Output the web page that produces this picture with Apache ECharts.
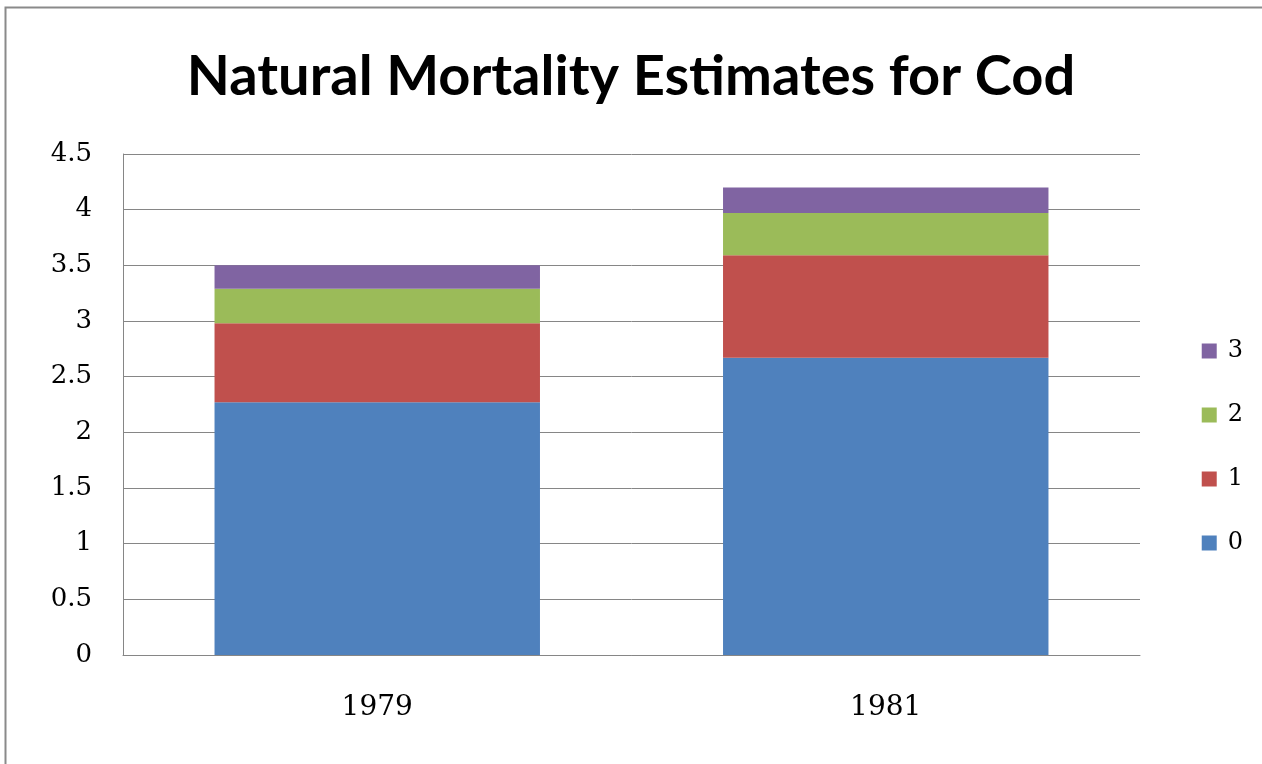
<!DOCTYPE html>
<html>
<head>
<meta charset="utf-8">
<title>Natural Mortality Estimates for Cod</title>
<script src="https://cdn.jsdelivr.net/npm/echarts@6/dist/echarts.min.js"></script>
<style>
  html, body { margin: 0; padding: 0; background: #ffffff; }
  #chart { width: 1262px; height: 764px; }
</style>
</head>
<body>
<div id="chart"></div>
<script>
// Survey years on the category axis
const years = ['1979', '1981'];

// Natural mortality by age class, stacked per year
const age0 = [2.27, 2.67];
const age1 = [0.71, 0.92];
const age2 = [0.31, 0.38];
const age3 = [0.21, 0.23];

// Value axis range
const yMin = 0;
const yMax = 4.5;
const yStep = 0.5;

const ageNames = ['0', '1', '2', '3'];
const ageValues = [age0, age1, age2, age3];
const ageColors = ['#4F81BD', '#C0504D', '#9BBB59', '#8064A2'];

const labelFont = 'DejaVu Serif';

const chart = echarts.init(document.getElementById('chart'), null, { renderer: 'canvas' });

chart.setOption({
  backgroundColor: '#ffffff',
  animation: false,
  title: {
    text: 'Natural Mortality Estimates for Cod',
    left: 'center',
    top: 44,
    textStyle: {
      fontFamily: 'Lato',
      fontWeight: 'bold',
      fontSize: 56,
      color: '#000000'
    }
  },
  graphic: [{
    type: 'rect',
    shape: { x: 5.5, y: 7.5, width: 1400, height: 900 },
    style: { fill: 'none', stroke: '#8a8a8a', lineWidth: 2 },
    silent: true,
    z: -1
  }],
  legend: {
    orient: 'vertical',
    right: 14,
    top: 333,
    itemWidth: 15,
    itemHeight: 15,
    itemGap: 38,
    icon: 'rect',
    data: ['3', '2', '1', '0'],
    textStyle: {
      fontFamily: labelFont,
      fontSize: 24,
      lineHeight: 26,
      color: '#000000',
      padding: [0, 0, 0, 6]
    }
  },
  grid: {
    left: 123,
    right: 122,
    top: 154,
    bottom: 109,
    containLabel: false
  },
  xAxis: {
    type: 'category',
    data: years,
    axisLine: { show: true, lineStyle: { color: '#868686', width: 1 } },
    axisTick: { show: false },
    axisLabel: {
      margin: 39,
      fontFamily: labelFont,
      fontSize: 28,
      color: '#000000'
    }
  },
  yAxis: {
    type: 'value',
    min: yMin,
    max: yMax,
    interval: yStep,
    axisLine: { show: true, lineStyle: { color: '#868686', width: 1 } },
    axisTick: { show: false },
    splitLine: { show: true, lineStyle: { color: '#868686', width: 1 } },
    axisLabel: {
      margin: 31,
      fontFamily: labelFont,
      fontSize: 26,
      color: '#000000'
    }
  },
  series: ageNames.map((name, i) => ({
    name: name,
    type: 'bar',
    stack: 'mortality',
    barCategoryGap: '36%',
    data: ageValues[i],
    itemStyle: { color: ageColors[i] }
  }))
});
</script>
</body>
</html>
